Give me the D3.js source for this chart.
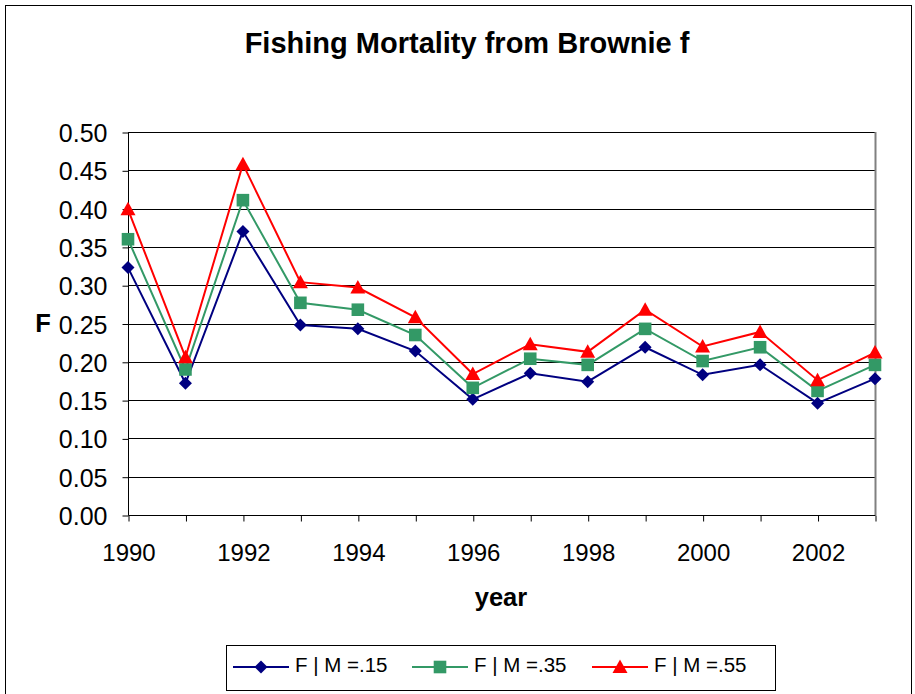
<!DOCTYPE html>
<html><head><meta charset="utf-8">
<script src="https://cdn.jsdelivr.net/npm/d3@7"></script>
<style>body{margin:0;background:#fff}svg{display:block;font-family:"Liberation Sans",Arial,sans-serif}</style>
</head><body><svg id="c" width="915" height="694"></svg>
<script>
const years = [1990,1991,1992,1993,1994,1995,1996,1997,1998,1999,2000,2001,2002,2003];
const fM15 = [0.323,0.172,0.370,0.248,0.243,0.214,0.151,0.185,0.174,0.219,0.183,0.196,0.146,0.178];
const fM35 = [0.360,0.190,0.411,0.277,0.268,0.235,0.166,0.204,0.196,0.243,0.201,0.219,0.162,0.196];
const fM55 = [0.399,0.206,0.458,0.304,0.297,0.258,0.184,0.223,0.213,0.268,0.220,0.239,0.176,0.212];
const seriesNames = ["F | M =.15","F | M =.35","F | M =.55"];
const yTicks = [0,0.05,0.10,0.15,0.20,0.25,0.30,0.35,0.40,0.45,0.50];
const xLabelYears = [1990,1992,1994,1996,1998,2000,2002];

const svg = d3.select("#c");
const FONT = "Liberation Sans, Arial, sans-serif";
const L=128,R=875,T=132,B=515;
const x = d3.scaleLinear().domain([1990,2003]).range([L,R]);
const y = d3.scaleLinear().domain([0,0.5]).range([B,T]);

// outer border
svg.append("rect").attr("x",5.5).attr("y",5.5).attr("width",906).attr("height",700)
  .attr("fill","none").attr("stroke","#000").attr("stroke-width",1);

svg.append("text").attr("x",467).attr("y",53).attr("text-anchor","middle")
  .attr("font-size",29).attr("font-weight","bold").text("Fishing Mortality from Brownie f");

// gridlines
svg.append("g").selectAll("line").data(yTicks.slice(1)).join("line")
  .attr("x1",L).attr("x2",R).attr("y1",d=>Math.round(y(d))+0.5).attr("y2",d=>Math.round(y(d))+0.5)
  .attr("stroke","#000").attr("stroke-width",1);
// right border of plot
svg.append("line").attr("x1",R+0.5).attr("x2",R+0.5).attr("y1",T).attr("y2",B)
  .attr("stroke","#808080").attr("stroke-width",2);

// y axis
const yAxis = d3.axisLeft(y).tickValues(yTicks).tickFormat(d3.format(".2f")).tickSize(6).tickPadding(15);
const gy = svg.append("g").attr("transform",`translate(${L+0.5},0.5)`).call(yAxis);
gy.selectAll("text").attr("font-size",25).attr("fill","#000").attr("font-family",FONT).attr("dy","0.36em");
gy.selectAll("line,path").attr("stroke","#000");
gy.select("path").attr("d",`M0,${T}V${B}`);

// x axis
const xAxis = d3.axisBottom(x).tickValues(years).tickFormat(d=>xLabelYears.includes(d)?String(d):"").tickSize(6).tickPadding(14);
const gx = svg.append("g").attr("transform",`translate(0.5,${B+0.5})`).call(xAxis);
gx.selectAll("text").attr("font-size",24).attr("fill","#000").attr("font-family",FONT).attr("y",45).attr("dy",0);
gx.selectAll("line,path").attr("stroke","#000");
gx.select("path").attr("d",`M${L},0H${R}`);

svg.append("text").attr("x",501).attr("y",606).attr("text-anchor","middle")
  .attr("font-size",25.5).attr("font-weight","bold").text("year");
svg.append("text").attr("x",43).attr("y",332).attr("text-anchor","middle")
  .attr("font-size",25.5).attr("font-weight","bold").text("F");

const colors = ["#000080","#339966","#FF0000"];
const diamond = {draw(ctx){ctx.moveTo(0,-6.5);ctx.lineTo(6.5,0);ctx.lineTo(0,6.5);ctx.lineTo(-6.5,0);ctx.closePath();}};
const square = {draw(ctx){ctx.rect(-6.3,-6.3,12.6,12.6);}};
const triangle = {draw(ctx){ctx.moveTo(0,-7.5);ctx.lineTo(7.5,6);ctx.lineTo(-7.5,6);ctx.closePath();}};
const symbols = [diamond, square, triangle];
const all = [fM15,fM35,fM55];
const line = d3.line().x((d,i)=>x(years[i])).y(d=>y(d));

all.forEach((vals,si)=>{
  svg.append("path").datum(vals).attr("d",line).attr("fill","none")
    .attr("stroke",colors[si]).attr("stroke-width",2);
});
all.forEach((vals,si)=>{
  svg.append("g").selectAll("path").data(vals).join("path")
    .attr("d",d3.symbol().type(symbols[si]))
    .attr("transform",(d,i)=>`translate(${x(years[i])},${y(d)})`)
    .attr("fill",colors[si]);
});

// legend
svg.append("rect").attr("x",226.5).attr("y",645.5).attr("width",549).attr("height",45)
  .attr("fill","#fff").attr("stroke","#000");
const legX = [233,412,592];
seriesNames.forEach((n,si)=>{
  const g = svg.append("g").attr("transform",`translate(${legX[si]},667)`);
  g.append("line").attr("x1",0).attr("x2",56).attr("y1",0).attr("y2",0).attr("stroke",colors[si]).attr("stroke-width",2);
  g.append("path").attr("d",d3.symbol().type(symbols[si])).attr("transform","translate(28,0)").attr("fill",colors[si]);
  g.append("text").attr("x",62).attr("y",4.5).attr("font-size",20.5).attr("font-family",FONT).text(n);
});
</script></body></html>
